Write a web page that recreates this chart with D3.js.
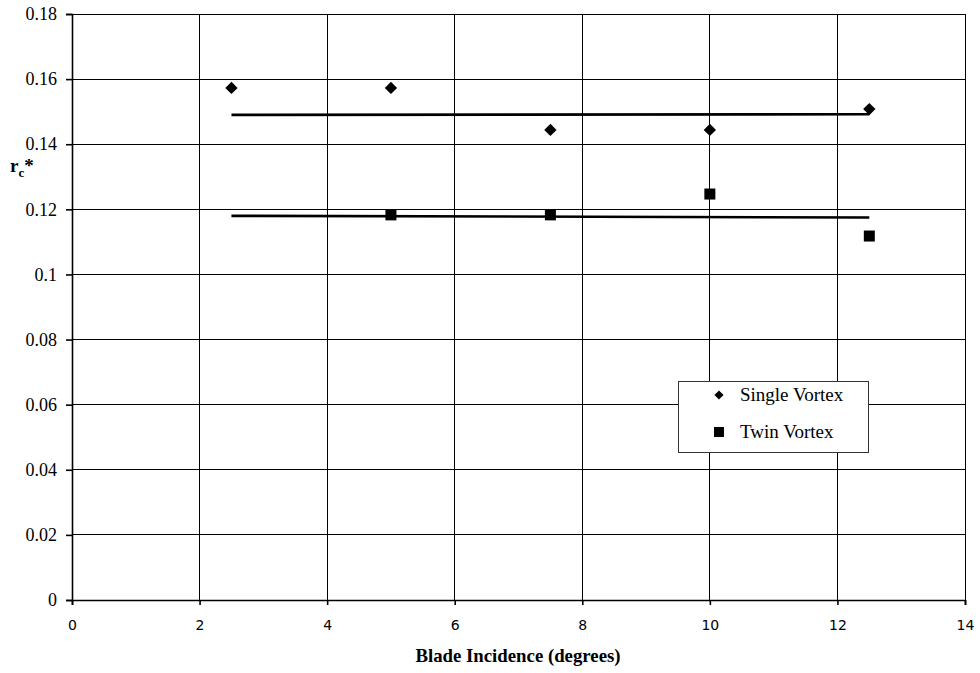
<!DOCTYPE html>
<html><head><meta charset="utf-8">
<script src="https://cdn.jsdelivr.net/npm/d3@7"></script>
<style>body{margin:0;background:#fff}</style>
</head><body>
<svg id="c" width="980" height="673"></svg>
<script>
const incidence = [2.5, 5, 7.5, 10, 12.5];
const singleVortex = [0.1573, 0.1573, 0.1444, 0.1444, 0.1508];
const twinIncidence = [5, 7.5, 10, 12.5];
const twinVortex = [0.1183, 0.1183, 0.1247, 0.1118];
const singleTrend = [[2.5, 0.1490], [12.5, 0.1492]];
const twinTrend = [[2.5, 0.1180], [12.5, 0.1175]];
const xTicks = [0, 2, 4, 6, 8, 10, 12, 14];
const yTicks = [0, 0.02, 0.04, 0.06, 0.08, 0.1, 0.12, 0.14, 0.16, 0.18];
const legendLabels = ["Single Vortex", "Twin Vortex"];

const serif = "'Liberation Serif', 'Times New Roman', serif";
const svg = d3.select("#c");
const x = d3.scaleLinear().domain([0, 14]).range([72, 965]);
const y = d3.scaleLinear().domain([0, 0.18]).range([600, 14]);

// gridlines
svg.append("g").selectAll("line").data(yTicks.filter(d => d > 0)).join("line")
  .attr("x1", x(0)).attr("x2", x(14)).attr("y1", d => y(d)).attr("y2", d => y(d))
  .attr("stroke", "#000").attr("stroke-width", 1).attr("shape-rendering", "crispEdges");
svg.append("g").selectAll("line").data(xTicks.filter(d => d > 0)).join("line")
  .attr("y1", y(0)).attr("y2", y(0.18)).attr("x1", d => x(d)).attr("x2", d => x(d))
  .attr("stroke", "#000").attr("stroke-width", 1).attr("shape-rendering", "crispEdges");

// axes
const yAxis = svg.append("g").attr("transform", `translate(${x(0)},0)`)
  .call(d3.axisLeft(y).tickValues(yTicks).tickSize(6).tickPadding(9)
    .tickFormat(d => d === 0 ? "0" : String(+d.toFixed(2))));
yAxis.selectAll("text").attr("font-family", serif).attr("font-size", 18).attr("fill", "#000");
yAxis.selectAll("line, path").attr("stroke", "#000").attr("stroke-width", 1.6);

const xAxis = svg.append("g").attr("transform", `translate(0,${y(0)})`)
  .call(d3.axisBottom(x).tickValues(xTicks).tickSize(5).tickPadding(15).tickFormat(d3.format("d")));
xAxis.selectAll("text").attr("font-family", "'DejaVu Sans', sans-serif").attr("font-size", 14).attr("fill", "#000");
xAxis.selectAll("line, path").attr("stroke", "#000").attr("stroke-width", 1.6);

// trend lines
const line = d3.line().x(d => x(d[0])).y(d => y(d[1]));
[singleTrend, twinTrend].forEach(t => {
  svg.append("path").attr("d", line(t)).attr("fill", "none").attr("stroke", "#000").attr("stroke-width", 2.6);
});

// markers
svg.append("g").selectAll("path").data(incidence.map((d, i) => [d, singleVortex[i]])).join("path")
  .attr("d", d3.symbol().type(d3.symbolSquare).size(76)())
  .attr("transform", d => `translate(${x(d[0])},${y(d[1])}) rotate(45)`)
  .attr("fill", "#000");
svg.append("g").selectAll("rect").data(twinIncidence.map((d, i) => [d, twinVortex[i]])).join("rect")
  .attr("x", d => x(d[0]) - 5.5).attr("y", d => y(d[1]) - 5.5)
  .attr("width", 11).attr("height", 11).attr("fill", "#000");

// legend
const lg = svg.append("g");
lg.append("rect").attr("x", 678.5).attr("y", 381.5).attr("width", 190).attr("height", 71)
  .attr("fill", "#fff").attr("stroke", "#333").attr("stroke-width", 1);
lg.append("path").attr("d", d3.symbol().type(d3.symbolSquare).size(42)())
  .attr("transform", "translate(719,395) rotate(45)").attr("fill", "#000");
lg.append("rect").attr("x", 714).attr("y", 427).attr("width", 10).attr("height", 10).attr("fill", "#000");
lg.selectAll("text").data(legendLabels).join("text")
  .attr("x", 740).attr("y", (d, i) => 401 + i * 37)
  .attr("font-family", serif).attr("font-size", 19).attr("fill", "#000")
  .text(d => d);

// axis titles
svg.append("text").attr("x", 518).attr("y", 662).attr("text-anchor", "middle")
  .attr("font-family", serif).attr("font-weight", "bold")
  .attr("font-size", 18.8).attr("fill", "#000").text("Blade Incidence (degrees)");
const yt = svg.append("text").attr("x", 10).attr("y", 172)
  .attr("font-family", serif).attr("font-weight", "bold")
  .attr("font-size", 19).attr("fill", "#000");
yt.append("tspan").text("r");
yt.append("tspan").attr("dy", 5).attr("font-size", 13).text("c");
yt.append("tspan").attr("dy", -5).text("*");
</script>
</body></html>
